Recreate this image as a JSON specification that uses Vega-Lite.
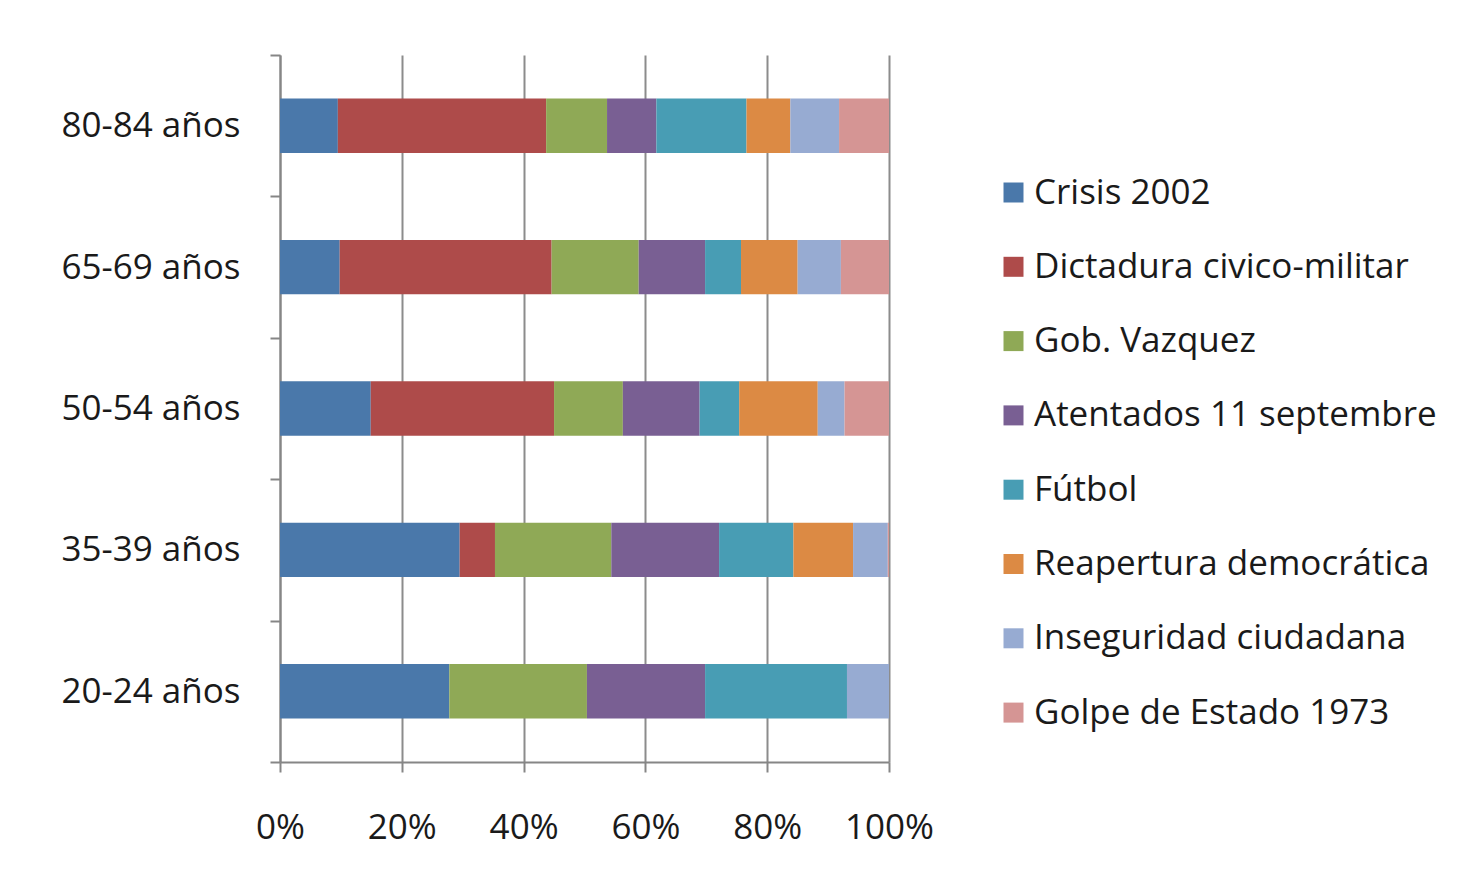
{
  "$schema": "https://vega.github.io/schema/vega-lite/v6.json",
  "width": 609,
  "height": 707,
  "autosize": "none",
  "padding": {"left": 280, "top": 55, "right": 578, "bottom": 128},
  "background": "white",
  "data": {
    "values": [
      {"grupo": "80-84 años", "evento": "Crisis 2002", "orden": 1, "valor": 9.5},
      {"grupo": "80-84 años", "evento": "Dictadura civico-militar", "orden": 2, "valor": 34.2},
      {"grupo": "80-84 años", "evento": "Gob. Vazquez", "orden": 3, "valor": 10.0},
      {"grupo": "80-84 años", "evento": "Atentados 11 septembre", "orden": 4, "valor": 8.1},
      {"grupo": "80-84 años", "evento": "Fútbol", "orden": 5, "valor": 14.8},
      {"grupo": "80-84 años", "evento": "Reapertura democrática", "orden": 6, "valor": 7.2},
      {"grupo": "80-84 años", "evento": "Inseguridad ciudadana", "orden": 7, "valor": 8.0},
      {"grupo": "80-84 años", "evento": "Golpe de Estado 1973", "orden": 8, "valor": 8.2},
      {"grupo": "65-69 años", "evento": "Crisis 2002", "orden": 1, "valor": 9.8},
      {"grupo": "65-69 años", "evento": "Dictadura civico-militar", "orden": 2, "valor": 34.8},
      {"grupo": "65-69 años", "evento": "Gob. Vazquez", "orden": 3, "valor": 14.3},
      {"grupo": "65-69 años", "evento": "Atentados 11 septembre", "orden": 4, "valor": 10.9},
      {"grupo": "65-69 años", "evento": "Fútbol", "orden": 5, "valor": 5.9},
      {"grupo": "65-69 años", "evento": "Reapertura democrática", "orden": 6, "valor": 9.3},
      {"grupo": "65-69 años", "evento": "Inseguridad ciudadana", "orden": 7, "valor": 7.1},
      {"grupo": "65-69 años", "evento": "Golpe de Estado 1973", "orden": 8, "valor": 7.9},
      {"grupo": "50-54 años", "evento": "Crisis 2002", "orden": 1, "valor": 14.9},
      {"grupo": "50-54 años", "evento": "Dictadura civico-militar", "orden": 2, "valor": 30.1},
      {"grupo": "50-54 años", "evento": "Gob. Vazquez", "orden": 3, "valor": 11.3},
      {"grupo": "50-54 años", "evento": "Atentados 11 septembre", "orden": 4, "valor": 12.6},
      {"grupo": "50-54 años", "evento": "Fútbol", "orden": 5, "valor": 6.5},
      {"grupo": "50-54 años", "evento": "Reapertura democrática", "orden": 6, "valor": 12.9},
      {"grupo": "50-54 años", "evento": "Inseguridad ciudadana", "orden": 7, "valor": 4.4},
      {"grupo": "50-54 años", "evento": "Golpe de Estado 1973", "orden": 8, "valor": 7.3},
      {"grupo": "35-39 años", "evento": "Crisis 2002", "orden": 1, "valor": 29.5},
      {"grupo": "35-39 años", "evento": "Dictadura civico-militar", "orden": 2, "valor": 5.8},
      {"grupo": "35-39 años", "evento": "Gob. Vazquez", "orden": 3, "valor": 19.1},
      {"grupo": "35-39 años", "evento": "Atentados 11 septembre", "orden": 4, "valor": 17.7},
      {"grupo": "35-39 años", "evento": "Fútbol", "orden": 5, "valor": 12.2},
      {"grupo": "35-39 años", "evento": "Reapertura democrática", "orden": 6, "valor": 9.8},
      {"grupo": "35-39 años", "evento": "Inseguridad ciudadana", "orden": 7, "valor": 5.7},
      {"grupo": "35-39 años", "evento": "Golpe de Estado 1973", "orden": 8, "valor": 0.2},
      {"grupo": "20-24 años", "evento": "Crisis 2002", "orden": 1, "valor": 27.8},
      {"grupo": "20-24 años", "evento": "Dictadura civico-militar", "orden": 2, "valor": 0},
      {"grupo": "20-24 años", "evento": "Gob. Vazquez", "orden": 3, "valor": 22.6},
      {"grupo": "20-24 años", "evento": "Atentados 11 septembre", "orden": 4, "valor": 19.4},
      {"grupo": "20-24 años", "evento": "Fútbol", "orden": 5, "valor": 23.3},
      {"grupo": "20-24 años", "evento": "Reapertura democrática", "orden": 6, "valor": 0},
      {"grupo": "20-24 años", "evento": "Inseguridad ciudadana", "orden": 7, "valor": 6.9},
      {"grupo": "20-24 años", "evento": "Golpe de Estado 1973", "orden": 8, "valor": 0}
    ]
  },
  "mark": {"type": "bar", "height": {"band": 0.385}},
  "encoding": {
    "y": {
      "field": "grupo",
      "type": "nominal",
      "sort": ["80-84 años", "65-69 años", "50-54 años", "35-39 años", "20-24 años"],
      "scale": {"paddingInner": 0, "paddingOuter": 0},
      "axis": {
        "title": null,
        "tickBand": "extent",
        "tickSize": 10,
        "tickColor": "#868686",
        "tickWidth": 2,
        "domainColor": "#868686",
        "domainWidth": 2,
        "labelPadding": 30,
        "labelFontSize": 35,
        "labelFont": "Open Sans",
        "labelColor": "#1a1a1a",
        "grid": false
      }
    },
    "x": {
      "field": "valor",
      "type": "quantitative",
      "stack": "normalize",
      "scale": {"domain": [0, 1], "nice": false},
      "axis": {
        "title": null,
        "values": [0, 0.2, 0.4, 0.6, 0.8, 1],
        "format": ".0%",
        "grid": true,
        "gridColor": "#8c8c8c",
        "gridWidth": 2,
        "tickSize": 10,
        "tickColor": "#868686",
        "tickWidth": 2,
        "domainColor": "#868686",
        "domainWidth": 2,
        "labelPadding": 38,
        "labelFontSize": 35,
        "labelFont": "Open Sans",
        "labelColor": "#1a1a1a",
        "labelFlush": false
      }
    },
    "color": {
      "field": "evento",
      "type": "nominal",
      "sort": ["Crisis 2002", "Dictadura civico-militar", "Gob. Vazquez", "Atentados 11 septembre", "Fútbol", "Reapertura democrática", "Inseguridad ciudadana", "Golpe de Estado 1973"],
      "scale": {
        "domain": ["Crisis 2002", "Dictadura civico-militar", "Gob. Vazquez", "Atentados 11 septembre", "Fútbol", "Reapertura democrática", "Inseguridad ciudadana", "Golpe de Estado 1973"],
        "range": ["#4A78AA", "#AE4B4A", "#8FA956", "#795F93", "#489DB4", "#DC8A44", "#97ABD2", "#D59594"]
      },
      "legend": {
        "title": null,
        "orient": "none",
        "legendX": 716,
        "legendY": 120,
        "symbolType": "square",
        "symbolSize": 400,
        "symbolStrokeWidth": 0,
        "labelFontSize": 35,
        "labelFont": "Open Sans",
        "labelColor": "#1a1a1a",
        "labelOffset": 3,
        "labelLimit": 500,
        "rowPadding": 38.3
      }
    },
    "order": {"field": "orden", "type": "quantitative"}
  },
  "config": {"view": {"stroke": null}}
}
